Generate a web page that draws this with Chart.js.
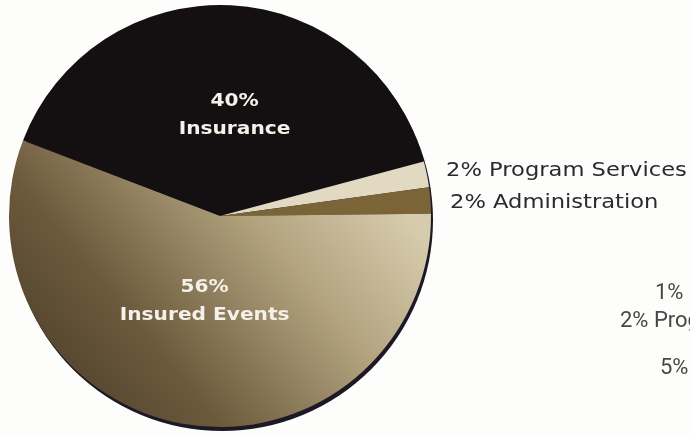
<!DOCTYPE html>
<html>
<head>
<meta charset="utf-8">
<script src="https://cdn.jsdelivr.net/npm/chart.js@4/dist/chart.umd.min.js"></script>
<style>
  html, body { margin: 0; padding: 0; background: #fdfdfc; }
  #wrap { position: relative; width: 690px; height: 435px; overflow: hidden; }
</style>
</head>
<body>
<div id="wrap"><canvas id="pie" width="690" height="435"></canvas></div>
<script>
// spending split, clockwise from the upper left edge
const categories = ['Insurance', 'Program Services', 'Administration', 'Insured Events'];
const shares = [40, 2, 2, 56];
const sliceColors = ['#141011', '#e2d9c3', '#7b6538', null];

// labels of the next chart along, which runs off the right side
const nextChartLabels = ['1%', '2% Program Services', '5%'];

// dark rim under the lower right of the disc
const rimPlugin = {
	id: 'rim',
	beforeDatasetsDraw: function(chart) {
		const arc = chart.getDatasetMeta(0).data[0];
		if (!arc) return;
		const ctx = chart.ctx;
		ctx.save();
		ctx.fillStyle = '#1d1826';
		ctx.beginPath();
		ctx.arc(arc.x + 2, arc.y + 4, arc.outerRadius, 0, Math.PI * 2);
		ctx.fill();
		ctx.restore();
	}
};

// draw text stretched sideways, the face used is a bit narrower than the print
function wideText(ctx, text, x, y, stretch) {
	ctx.save();
	ctx.translate(x, y);
	ctx.scale(stretch, 1);
	ctx.fillText(text, 0, 0);
	ctx.restore();
}

// percentage + name on the big slices, to the right of the pie for the thin ones
const sliceLabelPlugin = {
	id: 'sliceLabels',
	afterDatasetsDraw: function(chart) {
		const ctx = chart.ctx;
		const arcs = chart.getDatasetMeta(0).data;
		ctx.save();
		arcs.forEach(function(arc, i) {
			const mid = (arc.startAngle + arc.endAngle) / 2;
			const pct = shares[i] + '%';
			if (shares[i] >= 10) {
				const f = i === 0 ? 0.5 : 0.41;
				const x = arc.x + Math.cos(mid) * arc.outerRadius * f + (i === 0 ? 9 : 0);
				const y = arc.y + Math.sin(mid) * arc.outerRadius * f + (i === 0 ? 5 : 0);
				ctx.fillStyle = '#f4f0ea';
				ctx.font = 'bold 18px "DejaVu Sans"';
				ctx.textAlign = 'center';
				ctx.textBaseline = 'middle';
				wideText(ctx, pct, x, y - 14, 1.12);
				wideText(ctx, categories[i], x, y + 14, 1.12);
			} else {
				const x = arc.x + arc.outerRadius + (i === 1 ? 15 : 19);
				const y = arc.y + Math.sin(mid) * arc.outerRadius + (i === 1 ? -3 : 2);
				ctx.fillStyle = '#2b2a2c';
				ctx.font = '20px "DejaVu Sans"';
				ctx.textAlign = 'left';
				ctx.textBaseline = 'middle';
				wideText(ctx, pct + ' ' + categories[i], x, y, 1.13);
			}
		});

		ctx.fillStyle = '#474747';
		ctx.font = '22px Roboto';
		ctx.textAlign = 'left';
		ctx.textBaseline = 'middle';
		ctx.fillText(nextChartLabels[0], 655, 293);
		ctx.fillText(nextChartLabels[1], 620, 321);
		ctx.fillText(nextChartLabels[2], 660, 368);
		ctx.restore();
	}
};

function insuredEventsFill(context) {
	const area = context.chart.chartArea;
	if (!area) return '#8c7b58';
	const g = context.chart.ctx.createLinearGradient(area.left + 60, area.bottom, area.right - 60, area.top + 170);
	g.addColorStop(0, '#4d3f29');
	g.addColorStop(0.3, '#6c5a3c');
	g.addColorStop(0.7, '#b3a47f');
	g.addColorStop(1, '#d6cbad');
	return g;
}

new Chart(document.getElementById('pie'), {
	type: 'pie',
	data: {
		labels: categories,
		datasets: [{
			data: shares,
			backgroundColor: function(context) {
				return context.dataIndex === 3 ? insuredEventsFill(context) : sliceColors[context.dataIndex];
			},
			borderWidth: 0,
			hoverOffset: 0
		}]
	},
	options: {
		responsive: false,
		animation: false,
		rotation: -69,
		layout: {
			padding: { left: 9, right: 259, top: 5, bottom: 8 }
		},
		plugins: {
			legend: { display: false },
			tooltip: { enabled: false }
		}
	},
	plugins: [rimPlugin, sliceLabelPlugin]
});
</script>
</body>
</html>
